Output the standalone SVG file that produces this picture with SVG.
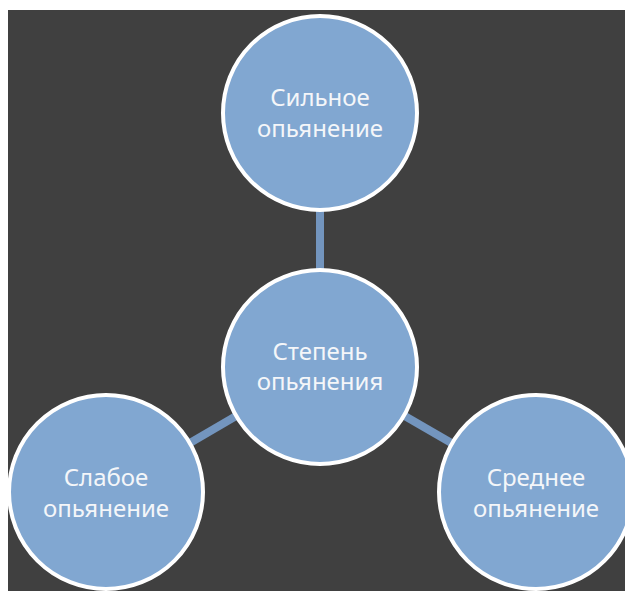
<svg xmlns="http://www.w3.org/2000/svg" width="625" height="591" viewBox="0 0 625 591">
  <style>
    .node circle { fill: #81A7D1; stroke: #FFFFFF; stroke-width: 4; }
    .node text { font-family: "Noto Sans", "Open Sans", sans-serif; font-size: 24px; fill: #F4F6F9; text-anchor: middle; }
    .conn line { stroke: #7395BE; stroke-width: 8; }
  </style>
  <rect x="0" y="0" width="625" height="591" fill="#FFFFFF"/>
  <rect x="8" y="10" width="617" height="581" fill="#404040"/>
  <g id="connectors" class="conn">
    <line x1="320" y1="113" x2="320" y2="367"/>
    <line x1="106" y1="492" x2="320" y2="367"/>
    <line x1="536" y1="492" x2="320" y2="367"/>
  </g>
  <g id="node-top" class="node">
    <circle cx="320" cy="113" r="97"/>
    <text x="320" y="106">Сильное</text>
    <text x="320" y="137">опьянение</text>
  </g>
  <g id="node-center" class="node">
    <circle cx="320" cy="367" r="97"/>
    <text x="320" y="360">Степень</text>
    <text x="320" y="390">опьянения</text>
  </g>
  <g id="node-left" class="node">
    <circle cx="106" cy="492" r="97"/>
    <text x="106" y="486">Слабое</text>
    <text x="106" y="517">опьянение</text>
  </g>
  <g id="node-right" class="node">
    <circle cx="536" cy="492" r="97"/>
    <text x="536" y="486">Среднее</text>
    <text x="536" y="517">опьянение</text>
  </g>
</svg>
